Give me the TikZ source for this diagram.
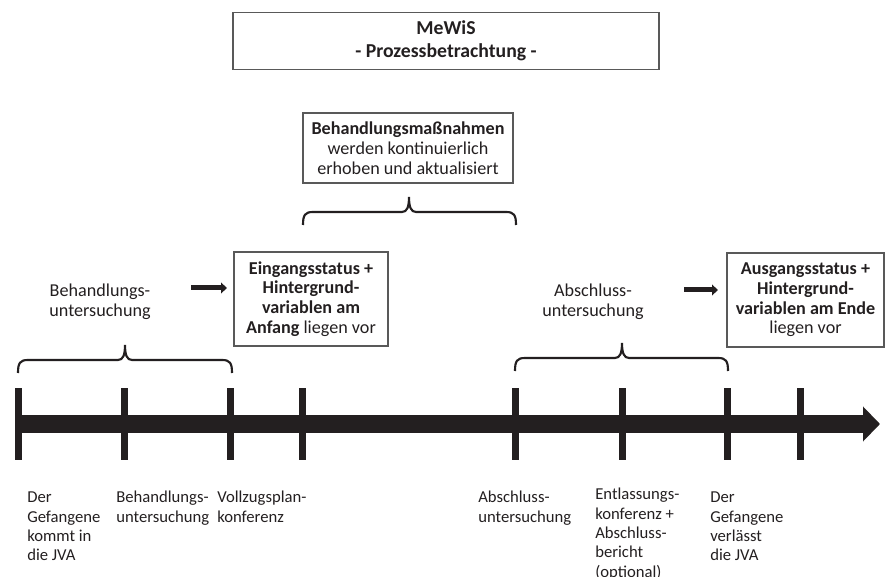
\documentclass[tikz,border=0pt]{standalone}
\usepackage{fontspec}
\setmainfont{Carlito}
\usepackage{tikz}
\usetikzlibrary{arrows.meta}
\definecolor{ink}{HTML}{231F20}
\definecolor{frame}{HTML}{595959}

\begin{document}
\begin{tikzpicture}[x=0.75pt, y=-0.75pt,
  txt/.style={font=\fontsize{13.6}{14.8}\selectfont, text=ink, inner sep=0pt},
  infobox/.style={txt, draw=frame, line width=1.1pt, align=center},
  lbl/.style={txt, font=\fontsize{12.5}{14.5}\selectfont, align=left, anchor=north west},
  bracestyle/.style={draw=ink, line width=1.6pt},
  tickmark/.style={draw=ink, line width=5.25pt},
  smallarrow/.style={draw=ink, line width=3.75pt, -{Triangle[length=4.5pt, width=8pt]}}]
\useasboundingbox (0,0) rectangle (889,577);

% boxes on top
\node[infobox, minimum width=319.5pt, minimum height=42.75pt,
  font=\bfseries\fontsize{14.8}{17.25}\selectfont] (title) at (446,41)
  {MeWiS\\- Prozessbetrachtung -};
\node[infobox, minimum width=157.5pt, minimum height=52.5pt] (measures) at (408,148)
  {\textbf{Behandlungsmaßnahmen}\\werden kontinuierlich\\erhoben und aktualisiert};
\node[infobox, minimum width=115.5pt, minimum height=70.5pt] (entry) at (311,299)
  {\textbf{Eingangsstatus +}\\\textbf{Hintergrund-}\\\textbf{variablen am}\\\textbf{Anfang} liegen vor};
\node[infobox, minimum width=117.75pt, minimum height=70.5pt] (exit) at (805.5,300)
  {\textbf{Ausgangsstatus +}\\\textbf{Hintergrund-}\\\textbf{variablen am Ende}\\liegen vor};

% phase labels
\node[txt, align=center] (intake) at (100,302) {Behandlungs-\\untersuchung};
\node[txt, align=center] (final) at (593,302) {Abschluss-\\untersuchung};

% arrows to the boxes
\coordinate (intakeA) at (191,288);
\coordinate (intakeB) at (227,288);
\coordinate (finalA) at (684,290);
\coordinate (finalB) at (718,290);
\draw[smallarrow] (intakeA) -- (intakeB);
\draw[smallarrow] (finalA) -- (finalB);

% braces
\foreach \xa/\xm/\xb/\yt in {18/125/232/345, 303/409/516/197, 515/622/728/343}
  \draw[bracestyle] (\xa,{\yt+28}) .. controls (\xa,{\yt+18}) and ({\xa+2},{\yt+15}) .. ({\xa+10},{\yt+15})
    -- ({\xm-7},{\yt+15}) .. controls ({\xm-2},{\yt+15}) and (\xm,{\yt+10}) .. (\xm,\yt)
    .. controls (\xm,{\yt+10}) and ({\xm+2},{\yt+15}) .. ({\xm+7},{\yt+15})
    -- ({\xb-10},{\yt+15}) .. controls ({\xb-2},{\yt+15}) and (\xb,{\yt+18}) .. (\xb,{\yt+28});

% timeline
\coordinate (tstart) at (15,424);
\coordinate (tend) at (880,424);
\draw[draw=ink, line width=13.5pt, -{Triangle[length=12.75pt, width=25.5pt]}] (tstart) -- (tend);
\foreach \x in {18.5,124.5,230.5,302.5,515.5,622,727.5,800.5}
  \draw[tickmark] (\x,388) -- (\x,460);

% events
\node[lbl] (arrive) at (27,492) {Der\\Gefangene\\kommt in\\die JVA};
\node[lbl] (exam) at (116,491) {Behandlungs-\\untersuchung};
\node[lbl] (plan) at (217,491) {Vollzugsplan-\\konferenz};
\node[lbl] (closing) at (478,491) {Abschluss-\\untersuchung};
\node[lbl] (release) at (595,488) {Entlassungs-\\konferenz +\\Abschluss-\\bericht\\(optional)};
\node[lbl] (leave) at (710,492) {Der\\Gefangene\\verlässt\\die JVA};
\end{tikzpicture}
\end{document}
